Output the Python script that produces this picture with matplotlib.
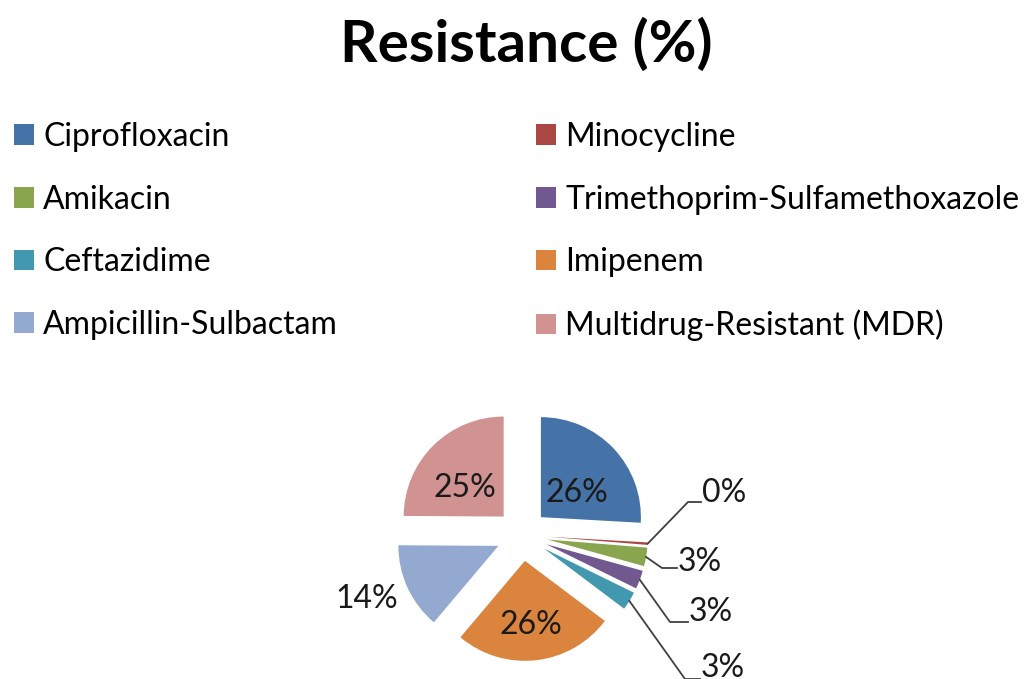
import numpy as np
import matplotlib
matplotlib.use("Agg")
import matplotlib.pyplot as plt
from matplotlib.patches import Patch

# data
drugs = ["Ciprofloxacin", "Minocycline", "Amikacin", "Trimethoprim-Sulfamethoxazole",
         "Ceftazidime", "Imipenem", "Ampicillin-Sulbactam", "Multidrug-Resistant (MDR)"]
resistance = [26, 0.4, 3, 3, 3, 26, 14, 25]
colors = ["#4572A7", "#AA4643", "#89A54E", "#71588F",
          "#4198AF", "#DB843D", "#93A9CF", "#D19392"]

plt.rcParams["font.family"] = ["Lato", "DejaVu Sans"]

W, H = 1031, 679
fig = plt.figure(figsize=(W / 100, H / 100), dpi=100)

fig.text(526 / W, 1 - 45 / H, "Resistance (%)", ha="center", va="center",
         fontsize=42, fontweight="bold")

# legend, two columns filled row by row
handles = [Patch(facecolor=c, edgecolor="none") for c in colors]
leg_kw = dict(frameon=False, fontsize=23, handlelength=0.62, handleheight=0.62,
              handletextpad=0.3, labelspacing=1.02, borderpad=0, borderaxespad=0,
              loc="upper left")
for k, x0 in enumerate([14, 536]):
    idx = list(range(k, len(drugs), 2))
    leg = fig.legend([handles[i] for i in idx], [drugs[i] for i in idx],
                     bbox_to_anchor=(x0 / W, 1 - 122 / H), **leg_kw)

# pie: centre at (522, 535) px, 100 px per unit
cx, cy, scale = 522, 535, 100
ax = fig.add_axes([(cx - 300) / W, (H - cy - 300) / H, 600 / W, 600 / H])

wedges, _ = ax.pie(resistance, colors=colors, startangle=90, counterclock=False,
                   explode=[0.26] * len(resistance), radius=1,
                   wedgeprops=dict(linewidth=0))
ax.set_xlim(-3, 3)
ax.set_ylim(-3, 3)
ax.axis("off")

pct = np.array(resistance) / sum(resistance) * 100
labels = [f"{round(p):.0f}%" for p in pct]

# radial distance from the exploded wedge centre
inside = {0: 0.5, 5: 0.55, 7: 0.55}
outside = {6: 1.42}
# small slices: (text x, text y, elbow x, elbow y)
leader = {1: (1.79, 0.42, 1.66, 0.33),
          2: (1.55, -0.27, 1.40, -0.33),
          3: (1.66, -0.77, 1.48, -0.87),
          4: (1.78, -1.33, 1.63, -1.44)}

for i, w in enumerate(wedges):
    ang = np.deg2rad((w.theta1 + w.theta2) / 2)
    d = np.array([np.cos(ang), np.sin(ang)])
    c0 = np.array(w.center)
    if i in inside:
        p = c0 + inside[i] * d
        ax.text(p[0], p[1] - 0.1, labels[i], ha="center", va="center", fontsize=23, color="#1a1a1a")
    elif i in outside:
        p = c0 + outside[i] * d
        ax.text(p[0] - 0.03, p[1] + 0.06, labels[i], ha="center", va="center", fontsize=23, color="#1a1a1a")
    else:
        tx, ty, ex, ey = leader[i]
        p = c0 + 1.0 * d
        ax.plot([p[0], ex, tx], [p[1], ey, ey], color="#404040", lw=1.3, clip_on=False)
        ax.text(tx + 0.01, ty, labels[i], ha="left", va="center", fontsize=23, color="#1a1a1a")

fig.savefig("out.png", dpi=100)
